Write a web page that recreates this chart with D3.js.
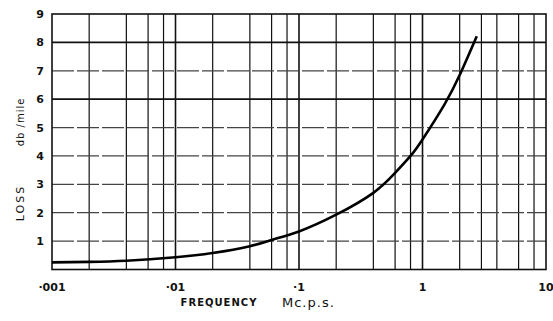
<!DOCTYPE html>
<html>
<head>
<meta charset="utf-8">
<script src="https://cdn.jsdelivr.net/npm/d3@7"></script>
<style>
  body { margin: 0; background: #fff; }
  text { font-family: "DejaVu Sans", sans-serif; fill: #111; }
</style>
</head>
<body>
<div id="plot"></div>
<script>
// curve
var freq = [0.001, 0.002, 0.004, 0.01, 0.02, 0.04, 0.06, 0.1, 0.2, 0.4, 0.6, 0.8, 1, 1.5, 2, 2.75];
var loss = [0.25, 0.27, 0.31, 0.43, 0.58, 0.82, 1.04, 1.34, 1.93, 2.7, 3.4, 4.0, 4.58, 5.8, 6.85, 8.22];

// grid and labels
var xGrid = [0.002, 0.004, 0.006, 0.008, 0.01, 0.02, 0.04, 0.06, 0.08, 0.1,
             0.2, 0.4, 0.6, 0.8, 1, 2, 3, 4, 6, 8];
var xTicks = [0.001, 0.01, 0.1, 1, 10];
var xTickLabels = ["\u00b7001", "\u00b701", "\u00b71", "1", "10"];
var yTicks = [1, 2, 3, 4, 5, 6, 7, 8, 9];
var heavyY = [6, 8];

function chart() {
  var W = 553, H = 321;
  var left = 52, right = 546, top = 14, bottom = 269.5;

  var svg = d3.select("#plot").append("svg")
    .attr("width", W)
    .attr("height", H);

  var x = d3.scaleLog().domain([0.001, 10]).range([left, right]);
  var y = d3.scaleLinear().domain([0, 9]).range([bottom, top]);

  // vertical grid
  svg.append("g")
    .selectAll("line")
    .data(xGrid)
    .enter().append("line")
    .attr("x1", function(d) { return x(d); })
    .attr("x2", function(d) { return x(d); })
    .attr("y1", top)
    .attr("y2", bottom)
    .attr("stroke", "#111")
    .attr("stroke-width", function(d) { return xTicks.indexOf(d) >= 0 ? 1.6 : 1.2; });

  // horizontal grid
  svg.append("g")
    .selectAll("line")
    .data(yTicks.slice(0, 8))
    .enter().append("line")
    .attr("x1", left)
    .attr("x2", right)
    .attr("y1", function(d) { return y(d); })
    .attr("y2", function(d) { return y(d); })
    .attr("stroke", function(d) { return heavyY.indexOf(d) >= 0 ? "#111" : "#444"; })
    .attr("stroke-width", function(d) { return heavyY.indexOf(d) >= 0 ? 1.6 : 1.2; })
    .attr("stroke-dasharray", function(d) { return heavyY.indexOf(d) >= 0 ? null : "22,3"; });

  // frame
  svg.append("rect")
    .attr("x", left)
    .attr("y", top)
    .attr("width", right - left)
    .attr("height", bottom - top)
    .attr("fill", "none")
    .attr("stroke", "#111")
    .attr("stroke-width", 1.6);

  // curve
  var line = d3.line()
    .x(function(d, i) { return x(freq[i]); })
    .y(function(d) { return y(d); })
    .curve(d3.curveNatural);

  svg.append("path")
    .datum(loss)
    .attr("d", line)
    .attr("fill", "none")
    .attr("stroke", "#000")
    .attr("stroke-width", 2.6);

  // y tick labels
  svg.append("g")
    .selectAll("text")
    .data(yTicks)
    .enter().append("text")
    .attr("x", left - 8)
    .attr("y", function(d) { return y(d) + 4; })
    .attr("text-anchor", "end")
    .attr("font-size", 11)
    .attr("font-weight", "bold")
    .text(function(d) { return d; });

  // x tick labels
  svg.append("g")
    .selectAll("text")
    .data(xTicks)
    .enter().append("text")
    .attr("x", function(d) { return x(d); })
    .attr("y", 291)
    .attr("text-anchor", "middle")
    .attr("font-size", 11)
    .attr("font-weight", "bold")
    .text(function(d, i) { return xTickLabels[i]; });

  // axis titles
  svg.append("text")
    .attr("x", 219)
    .attr("y", 306)
    .attr("text-anchor", "middle")
    .attr("font-size", 10)
    .attr("font-weight", "bold")
    .attr("letter-spacing", 1)
    .text("FREQUENCY");

  svg.append("text")
    .attr("x", 282)
    .attr("y", 307)
    .attr("font-size", 13)
    .attr("letter-spacing", 1)
    .text("Mc.p.s.");

  svg.append("text")
    .attr("transform", "translate(24,203) rotate(-90)")
    .attr("text-anchor", "middle")
    .attr("font-size", 11)
    .attr("letter-spacing", 2)
    .text("LOSS");

  svg.append("text")
    .attr("transform", "translate(24,122) rotate(-90)")
    .attr("text-anchor", "middle")
    .attr("font-size", 10)
    .attr("letter-spacing", 1)
    .text("db /mile");
}

chart();
</script>
</body>
</html>
